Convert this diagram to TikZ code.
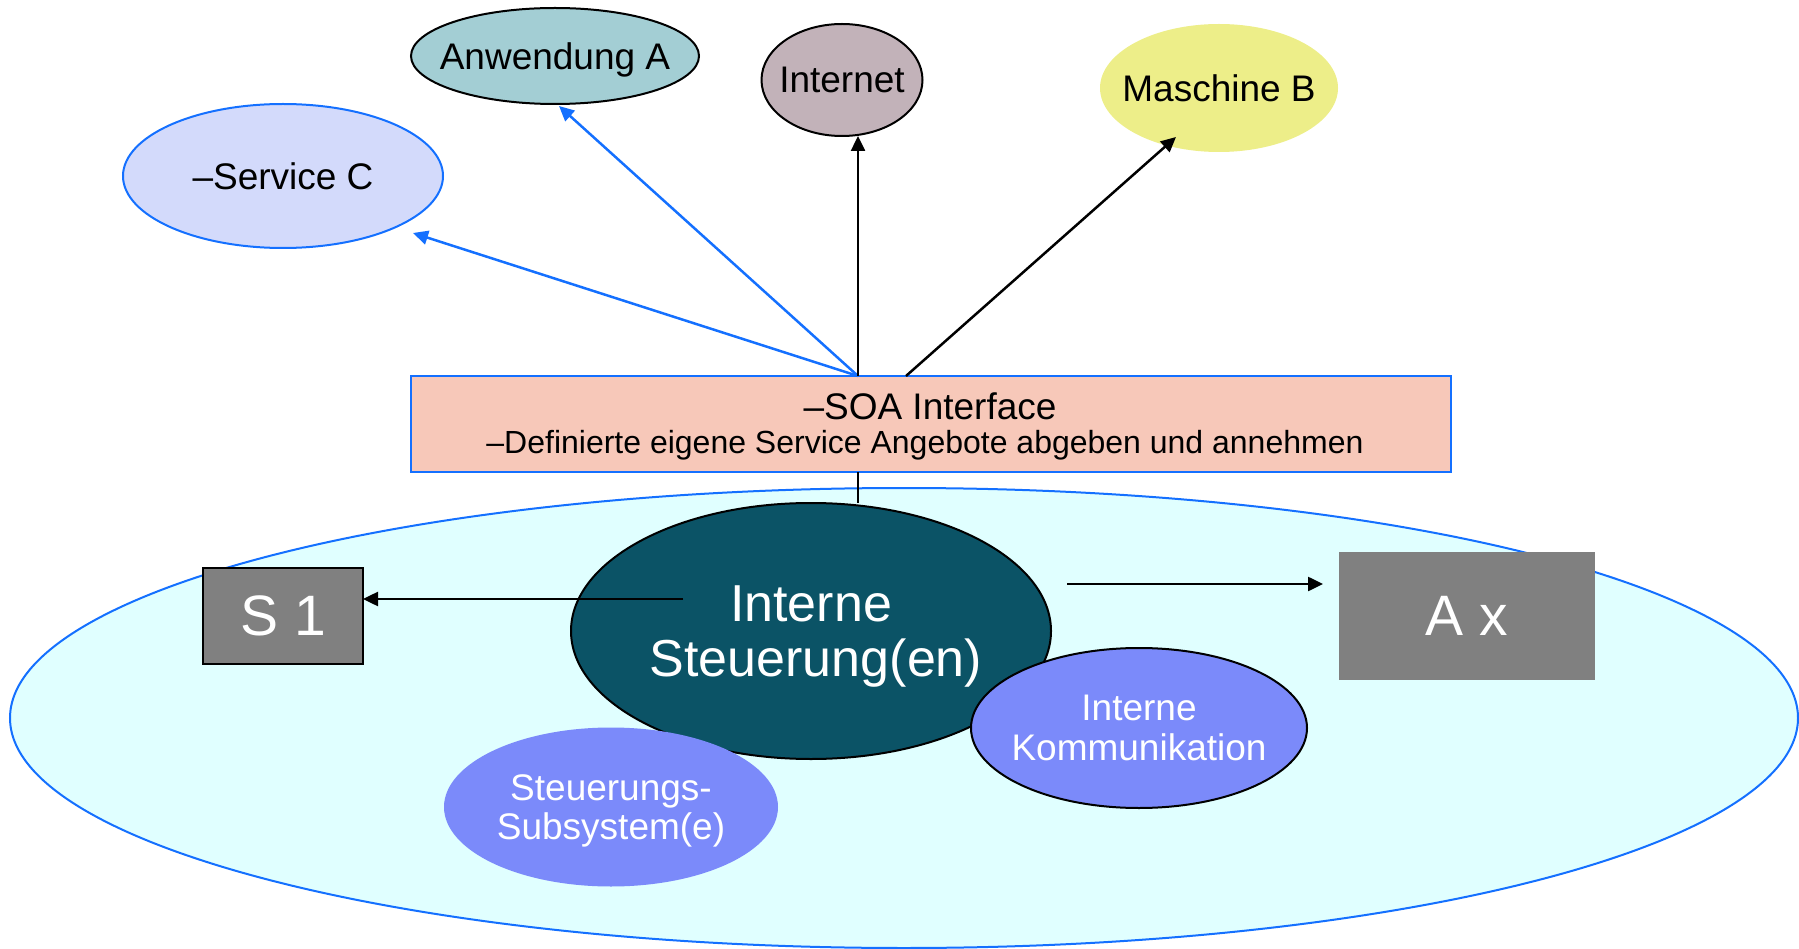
\documentclass[tikz,border=0pt]{standalone}
\usepackage{fontspec}
\setmainfont{Liberation Sans}
\usetikzlibrary{shapes.geometric,arrows.meta,calc}

\definecolor{cyanbg}{HTML}{E0FFFF}
\definecolor{lineblue}{HTML}{1470FF}
\definecolor{tealdark}{HTML}{0B5366}
\definecolor{periwinkle}{HTML}{7B8AFA}
\definecolor{salmon}{HTML}{F7C8B9}
\definecolor{lavender}{HTML}{D3DAFB}
\definecolor{tealight}{HTML}{A3CED4}
\definecolor{mauve}{HTML}{C2B2B9}
\definecolor{paleyellow}{HTML}{EDEE89}
\definecolor{boxgray}{HTML}{808080}

\newcommand\fsz[2]{\fontsize{#1}{#2}\selectfont}
% zero-width line so that an ellipse keeps its given size
\newcommand\zw[1]{\makebox[0pt][c]{#1}}

\begin{document}
\begin{tikzpicture}[x=1pt,y=-1pt,
  every node/.style={outer sep=0pt},
  oval/.style={ellipse,inner sep=0pt},
  midtext/.style={font=\fsz{37}{40}},
  arrk/.style={line width=2.5pt,-{Triangle[length=15pt,width=14pt]}},
  arrb/.style={arrk,draw=lineblue,fill=lineblue},
  unit/.style={rectangle,fill=boxgray,text=white,font=\fsz{57}{60},inner sep=0pt},
]
\useasboundingbox (0,0) rectangle (1799,949);

% the system
\node[oval,draw=lineblue,line width=2pt,fill=cyanbg,
      minimum width=1788pt,minimum height=460pt] (system) at (904,718) {};

% sensor and actuator
\node[unit,draw=black,line width=2.5pt,minimum width=160pt,minimum height=96pt] (s1) at (283,616) {S 1};
\node[unit,minimum width=256pt,minimum height=128pt] (ax) at (1467,616) {A x};

% SOA interface
\node[rectangle,fill=salmon,draw=lineblue,line width=2.5pt,
      minimum width=1040pt,minimum height=96pt] (soa) at (931,424) {};
\node[anchor=base,font=\fsz{37}{40}] (soatitle) at (930,419) {–SOA Interface};
\node[anchor=base,font=\fsz{32}{34}] (soasub) at (925,453) {–Definierte eigene Service Angebote abgeben und annehmen};

\coordinate (hub) at ($(soa.north west)+(447,0)$);
\coordinate (hubr) at ($(soa.north west)+(495,0)$);

% internal control
\node[oval,fill=tealdark,draw=black,line width=2pt,minimum width=480pt,minimum height=256pt,
      text=white,align=center,font=\fsz{52}{55},text depth=0pt] (ctrl) at (811,631)
      {\zw{Interne}\\\zw{\hspace*{10pt}Steuerung(en)}};

\draw[line width=2pt] (soa.south -| hub) -- (hub |- ctrl.north);

\coordinate (ctrlw) at (683,599);
\coordinate (ctrle) at (1067,584);
\draw[arrk] (ctrlw) -- (s1.east |- ctrlw);
\draw[arrk] (ctrle) -- ($(ax.west |- ctrle)+(-16,0)$);

\node[oval,fill=periwinkle,minimum width=334pt,minimum height=159pt,
      text=white,align=center,font=\fsz{37}{39},text depth=0pt] (sub) at (611,807)
      {\zw{Steuerungs-}\\\zw{Subsystem(e)}};
\node[oval,fill=periwinkle,draw=black,line width=2pt,minimum width=336pt,minimum height=160pt,
      text=white,align=center,font=\fsz{37}{40},text depth=0pt] (komm) at (1139,728)
      {\zw{Interne}\\\zw{Kommunikation}};

% outside partners
\node[oval,midtext,fill=lavender,draw=lineblue,line width=2pt,minimum width=320pt,minimum height=144pt,text depth=0pt] (svc) at (283,176) {\zw{–Service C}};
\node[oval,midtext,fill=tealight,draw=black,line width=2pt,minimum width=288pt,minimum height=96pt,text depth=0pt] (anw) at (555,56) {\zw{Anwendung A}};
\node[oval,midtext,fill=mauve,draw=black,line width=2pt,minimum width=161pt,minimum height=112pt,text depth=0pt] (inet) at (842,80) {\zw{Internet}};
\node[oval,midtext,fill=paleyellow,minimum width=238pt,minimum height=128pt,text depth=0pt] (mb) at (1219,88) {\zw{Maschine B}};

\draw[arrb] (hub) -- ($(svc.center)+(130,57)$);
\draw[arrb] (hub) -- ($(anw.south)+(4,2)$);
\draw[arrk] (hub) -- (hub |- inet.south);
\draw[arrk] (hubr) -- ($(mb.center)+(-43,49)$);
\end{tikzpicture}
\end{document}
